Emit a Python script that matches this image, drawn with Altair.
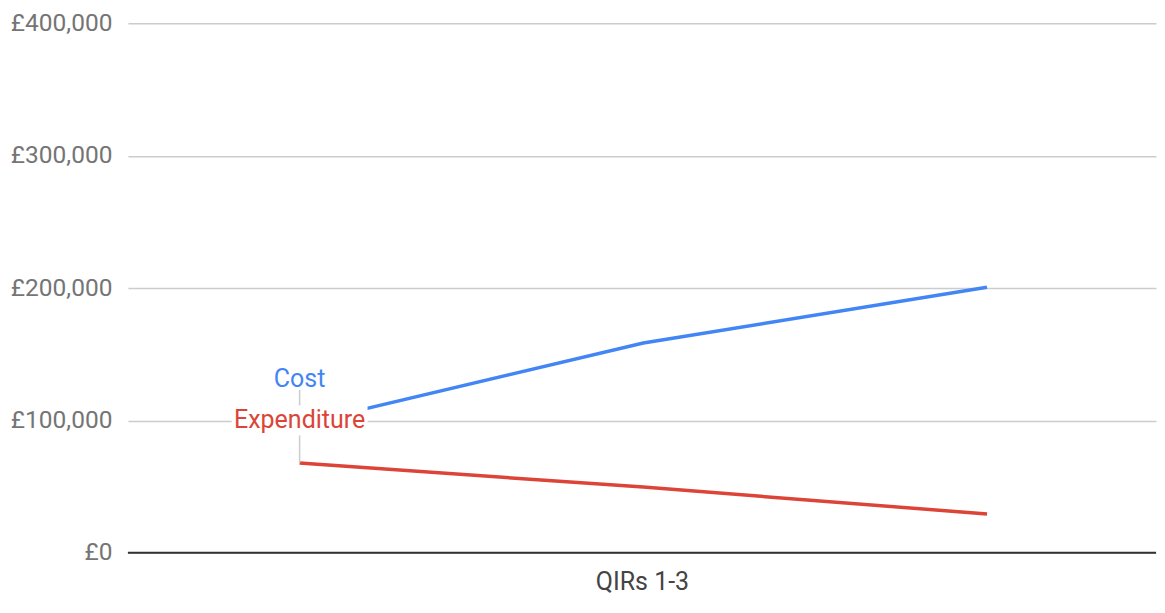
import altair as alt
import pandas as pd

quarters = ["QIR 1", "QIR 2", "QIR 3"]
cost = [97000, 158500, 200500]
expenditure = [67800, 49600, 29300]
series_names = ["Cost", "Expenditure"]
series_colors = ["#4285F4", "#DB4437"]
label_values = [131500, 100000]

rows = []
for q, c, e in zip(quarters, cost, expenditure):
    rows.append({"q": q, "series": "Cost", "v": c})
    rows.append({"q": q, "series": "Expenditure", "v": e})
df = pd.DataFrame(rows)

labels_df = pd.DataFrame({
    "q": [quarters[0]] * 2,
    "series": series_names,
    "v": label_values,
})
leader_df = pd.DataFrame({"q": [quarters[0]], "v": [label_values[0] - 8500], "v2": [expenditure[0]]})

FONT = "Roboto"
xscale = alt.Scale(type="point", padding=0.4956, align=0.504, domain=quarters)
yscale = alt.Scale(domain=[0, 400000])
color = alt.Color("series:N", scale=alt.Scale(domain=series_names, range=series_colors), legend=None)

x_enc = alt.X("q:N", scale=xscale, sort=quarters,
              axis=alt.Axis(labels=False, ticks=False, domain=False, grid=False,
                            title="QIRs 1-3", titleFont=FONT, titleFontSize=25,
                            titleFontWeight="normal", titleColor="#444444", titlePadding=17))
y_enc = alt.Y("v:Q", scale=yscale,
              axis=alt.Axis(values=[0, 100000, 200000, 300000, 400000],
                            labelExpr="'£' + format(datum.value, ',')",
                            labelFont=FONT, labelFontSize=24.5, labelColor="#757575",
                            labelPadding=16, ticks=False, domain=False,
                            gridColor="#cccccc", gridWidth=1.5,
                            title=None, minExtent=120, maxExtent=120))

lines = alt.Chart(df).mark_line(strokeWidth=3.5).encode(x=x_enc, y=y_enc, color=color)

baseline = alt.Chart(pd.DataFrame({"v": [0]})).mark_rule(color="#333333", strokeWidth=2).encode(
    y=alt.Y("v:Q", scale=yscale))

leader = alt.Chart(leader_df).mark_rule(color="#cccccc", strokeWidth=1.5).encode(
    x=alt.X("q:N", scale=xscale), y=alt.Y("v:Q", scale=yscale), y2="v2:Q")

box = alt.Chart(labels_df[labels_df.series == "Expenditure"]).mark_rect(
    color="white", width=136, height=30).encode(
    x=alt.X("q:N", scale=xscale), y=alt.Y("v:Q", scale=yscale))

texts = alt.Chart(labels_df).mark_text(font=FONT, fontSize=25, align="center", baseline="middle").encode(
    x=alt.X("q:N", scale=xscale), y=alt.Y("v:Q", scale=yscale), text="series:N", color=color)

chart = alt.layer(lines, baseline, leader, box, texts).properties(
    width=1029, height=530, padding={"top": 2, "left": 0, "right": 0, "bottom": 0}
).configure(background="white").configure_view(stroke=None)

chart.save("out.html", embed_options={"renderer": "svg", "actions": False})
